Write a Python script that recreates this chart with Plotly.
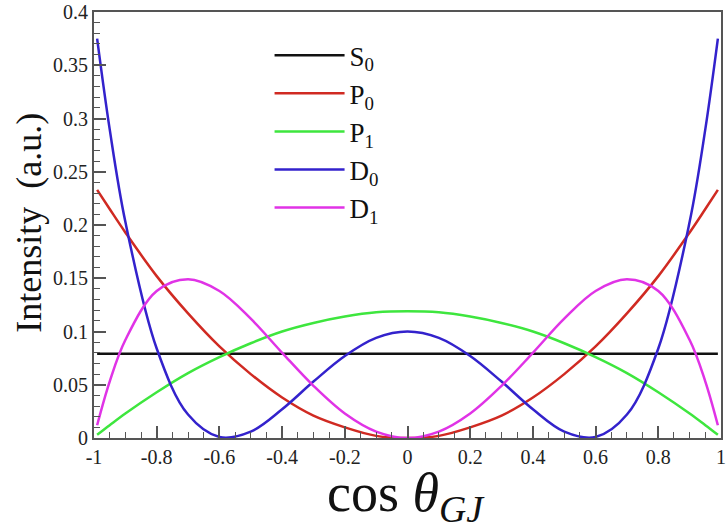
import plotly.graph_objects as go

x = [-0.99, -0.95, -0.9, -0.8, -0.7, -0.6, -0.5, -0.4, -0.3, -0.2, -0.1, 0.0,
     0.1, 0.2, 0.3, 0.4, 0.5, 0.6, 0.7, 0.8, 0.9, 0.95, 0.99]

S0 = [0.079] * 23
P0 = [0.233, 0.215, 0.193, 0.152, 0.117, 0.086, 0.060, 0.038, 0.021, 0.010, 0.002, 0.0,
      0.002, 0.010, 0.021, 0.038, 0.060, 0.086, 0.117, 0.152, 0.193, 0.215, 0.233]
P1 = [0.003, 0.012, 0.023, 0.043, 0.061, 0.076, 0.089, 0.100, 0.108, 0.114, 0.118, 0.119,
      0.118, 0.114, 0.108, 0.100, 0.089, 0.076, 0.061, 0.043, 0.023, 0.012, 0.003]
D0 = [0.375, 0.290, 0.203, 0.084, 0.022, 0.001, 0.006, 0.027, 0.053, 0.077, 0.094, 0.100,
      0.094, 0.077, 0.053, 0.027, 0.006, 0.001, 0.022, 0.084, 0.203, 0.290, 0.375]
D1 = [0.012, 0.053, 0.092, 0.138, 0.149, 0.138, 0.112, 0.080, 0.049, 0.023, 0.006, 0.0,
      0.006, 0.023, 0.049, 0.080, 0.112, 0.138, 0.149, 0.138, 0.092, 0.053, 0.012]

names = ["S<sub>0</sub>", "P<sub>0</sub>", "P<sub>1</sub>", "D<sub>0</sub>", "D<sub>1</sub>"]
series = [S0, P0, P1, D0, D1]
colors = ["#111111", "#d02a22", "#3ee63e", "#3322cc", "#e033e6"]

xtickvals = [-1, -0.8, -0.6, -0.4, -0.2, 0, 0.2, 0.4, 0.6, 0.8, 1]
xticktext = ["-1", "-0.8", "-0.6", "-0.4", "-0.2", "0", "0.2", "0.4", "0.6", "0.8", "1"]
ytickvals = [0, 0.05, 0.1, 0.15, 0.2, 0.25, 0.3, 0.35, 0.4]
yticktext = ["0", "0.05", "0.1", "0.15", "0.2", "0.25", "0.3", "0.35", "0.4"]

fig = go.Figure()
for n, s, c in zip(names, series, colors):
    fig.add_trace(go.Scatter(x=x, y=s, mode="lines", name=n,
                             line=dict(color=c, width=2.5, shape="spline", smoothing=1.0)))

serif = "Liberation Serif, DejaVu Serif, serif"
fig.update_layout(
    width=727, height=524,
    margin=dict(l=94, r=1, t=9, b=86),
    paper_bgcolor="white", plot_bgcolor="white",
    font=dict(family=serif, color="#222"),
    legend=dict(x=0.28, y=0.955, xanchor="left", yanchor="top",
                bgcolor="rgba(0,0,0,0)", font=dict(size=27, family=serif, color="#111"),
                itemwidth=70, tracegroupgap=0),
    xaxis=dict(range=[-1, 1], tickmode="array",
               tickvals=xtickvals, ticktext=xticktext,
               ticks="inside", ticklen=12, tickwidth=1.5, tickcolor="#555",
               minor=dict(dtick=0.05, ticks="inside", ticklen=6, tickcolor="#555", tickwidth=1.2),
               showline=True, linecolor="#555", linewidth=2, mirror=True,
               showgrid=False, zeroline=False, ticklabeloverflow="allow",
               tickfont=dict(size=20, family=serif, color="#222")),
    yaxis=dict(range=[0, 0.4], tickmode="array",
               tickvals=ytickvals, ticktext=yticktext,
               ticks="inside", ticklen=12, tickwidth=1.5, tickcolor="#555",
               minor=dict(dtick=0.01, ticks="inside", ticklen=6, tickcolor="#555", tickwidth=1.2),
               showline=True, linecolor="#555", linewidth=2, mirror=True,
               showgrid=False, zeroline=False, ticklabeloverflow="allow",
               tickfont=dict(size=20, family=serif, color="#222")),
)
fig.add_annotation(text="Intensity  (a.u.)", xref="paper", yref="paper",
                   x=-0.104, y=0.505, xanchor="center", yanchor="middle", textangle=-90,
                   showarrow=False, font=dict(size=36, family=serif, color="#111"))
fig.add_annotation(text="cos <i>θ</i><sub><i>GJ</i></sub>", xref="paper", yref="paper",
                   x=0.497, y=-0.138, xanchor="center", yanchor="middle", showarrow=False,
                   font=dict(size=54, family=serif, color="#111"))

fig.write_html("out.html")
